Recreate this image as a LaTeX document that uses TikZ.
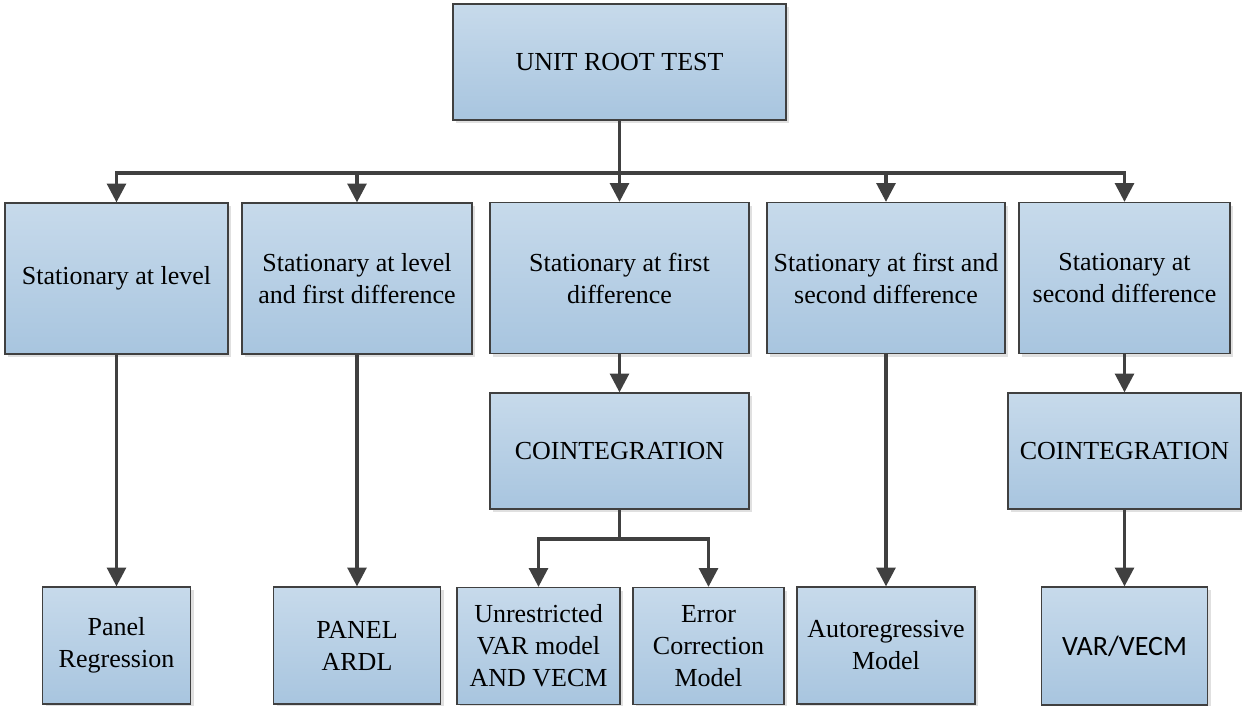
\documentclass[tikz,border=0pt]{standalone}
\usepackage{fontspec}
\setmainfont{Liberation Serif}
\newfontfamily\calibrifont{Carlito}
\usetikzlibrary{arrows.meta,shadows}

\definecolor{boxtop}{HTML}{C7DAEB}
\definecolor{boxbottom}{HTML}{A8C5DF}
\definecolor{linegray}{HTML}{404040}

\begin{document}
\begin{tikzpicture}[x=0.75pt,y=0.75pt,yscale=-1,xscale=1,
  box/.style={draw=linegray, line width=0.9pt, top color=boxtop, bottom color=boxbottom,
    align=center, inner sep=2pt, font=\fontsize{19.5}{24}\selectfont,
    drop shadow={shadow xshift=2.5pt, shadow yshift=-2.5pt, fill=black!12, opacity=1}},
  arr/.style={draw=linegray, line width=2.5pt, -{Triangle[width=14pt,length=14pt]}},
  link/.style={draw=linegray, line width=2.5pt}]
\useasboundingbox (0,0) rectangle (1242,706);

%Top box
\node [box, minimum width=249.75pt, minimum height=87pt] (unit) at (619.5,62) {UNIT ROOT TEST};

%Stationarity boxes
\node [box, minimum width=167.25pt, minimum height=113.25pt] (level) at (116.5,278.5) {Stationary at level};
\node [box, minimum width=172.5pt, minimum height=113.25pt] (levfirst) at (357,278.5) {Stationary at level\\and first difference};
\node [box, minimum width=194.25pt, minimum height=113.25pt] (first) at (619.5,278) {Stationary at first\\difference};
\node [box, minimum width=178.5pt, minimum height=113.25pt] (firstsec) at (886,278) {Stationary at first and\\second difference};
\node [box, minimum width=158.25pt, minimum height=113.25pt] (second) at (1124.5,278) {Stationary at\\second difference};

%Cointegration boxes
\node [box, minimum width=194.25pt, minimum height=87pt] (coint) at (619.5,451) {COINTEGRATION};
\node [box, minimum width=174.75pt, minimum height=87pt] (cointsec) at (1124.5,451) {COINTEGRATION};

%Model boxes
\node [box, minimum width=111pt, minimum height=87.75pt] (panel) at (116.5,645.5) {Panel\\Regression};
\node [box, minimum width=125.25pt, minimum height=87.75pt] (ardl) at (357,645.5) {PANEL\\ARDL};
\node [box, minimum width=122.25pt, minimum height=87.75pt] (var) at (538.5,646) {Unrestricted\\VAR model\\AND VECM};
\node [box, minimum width=113.25pt, minimum height=87.75pt] (ecm) at (708.5,646) {Error\\Correction\\Model};
\node [box, minimum width=133.5pt, minimum height=87.75pt] (auto) at (886,645.5) {Autoregressive\\Model};
\node [box, minimum width=124.5pt, minimum height=88.5pt, font=\calibrifont\fontsize{21}{24}\selectfont] (vecm) at (1124.5,646) {VAR/VECM};

%Connectors
\coordinate (bus) at (619.5,173);
\coordinate (split) at (619.5,539);
\draw [arr] (unit) -- (first);
\draw [arr] (bus) -| (level.north);
\draw [arr] (bus) -| (levfirst.north);
\draw [arr] (bus) -| (firstsec.north);
\draw [arr] (bus) -| (second.north);
\draw [arr] (level) -- (panel);
\draw [arr] (levfirst) -- (ardl);
\draw [arr] (first) -- (coint);
\draw [link] (coint) -- (split);
\draw [arr] (split) -| (var.north);
\draw [arr] (split) -| (ecm.north);
\draw [arr] (firstsec) -- (auto);
\draw [arr] (second) -- (cointsec);
\draw [arr] (cointsec) -- (vecm);

\end{tikzpicture}
\end{document}
